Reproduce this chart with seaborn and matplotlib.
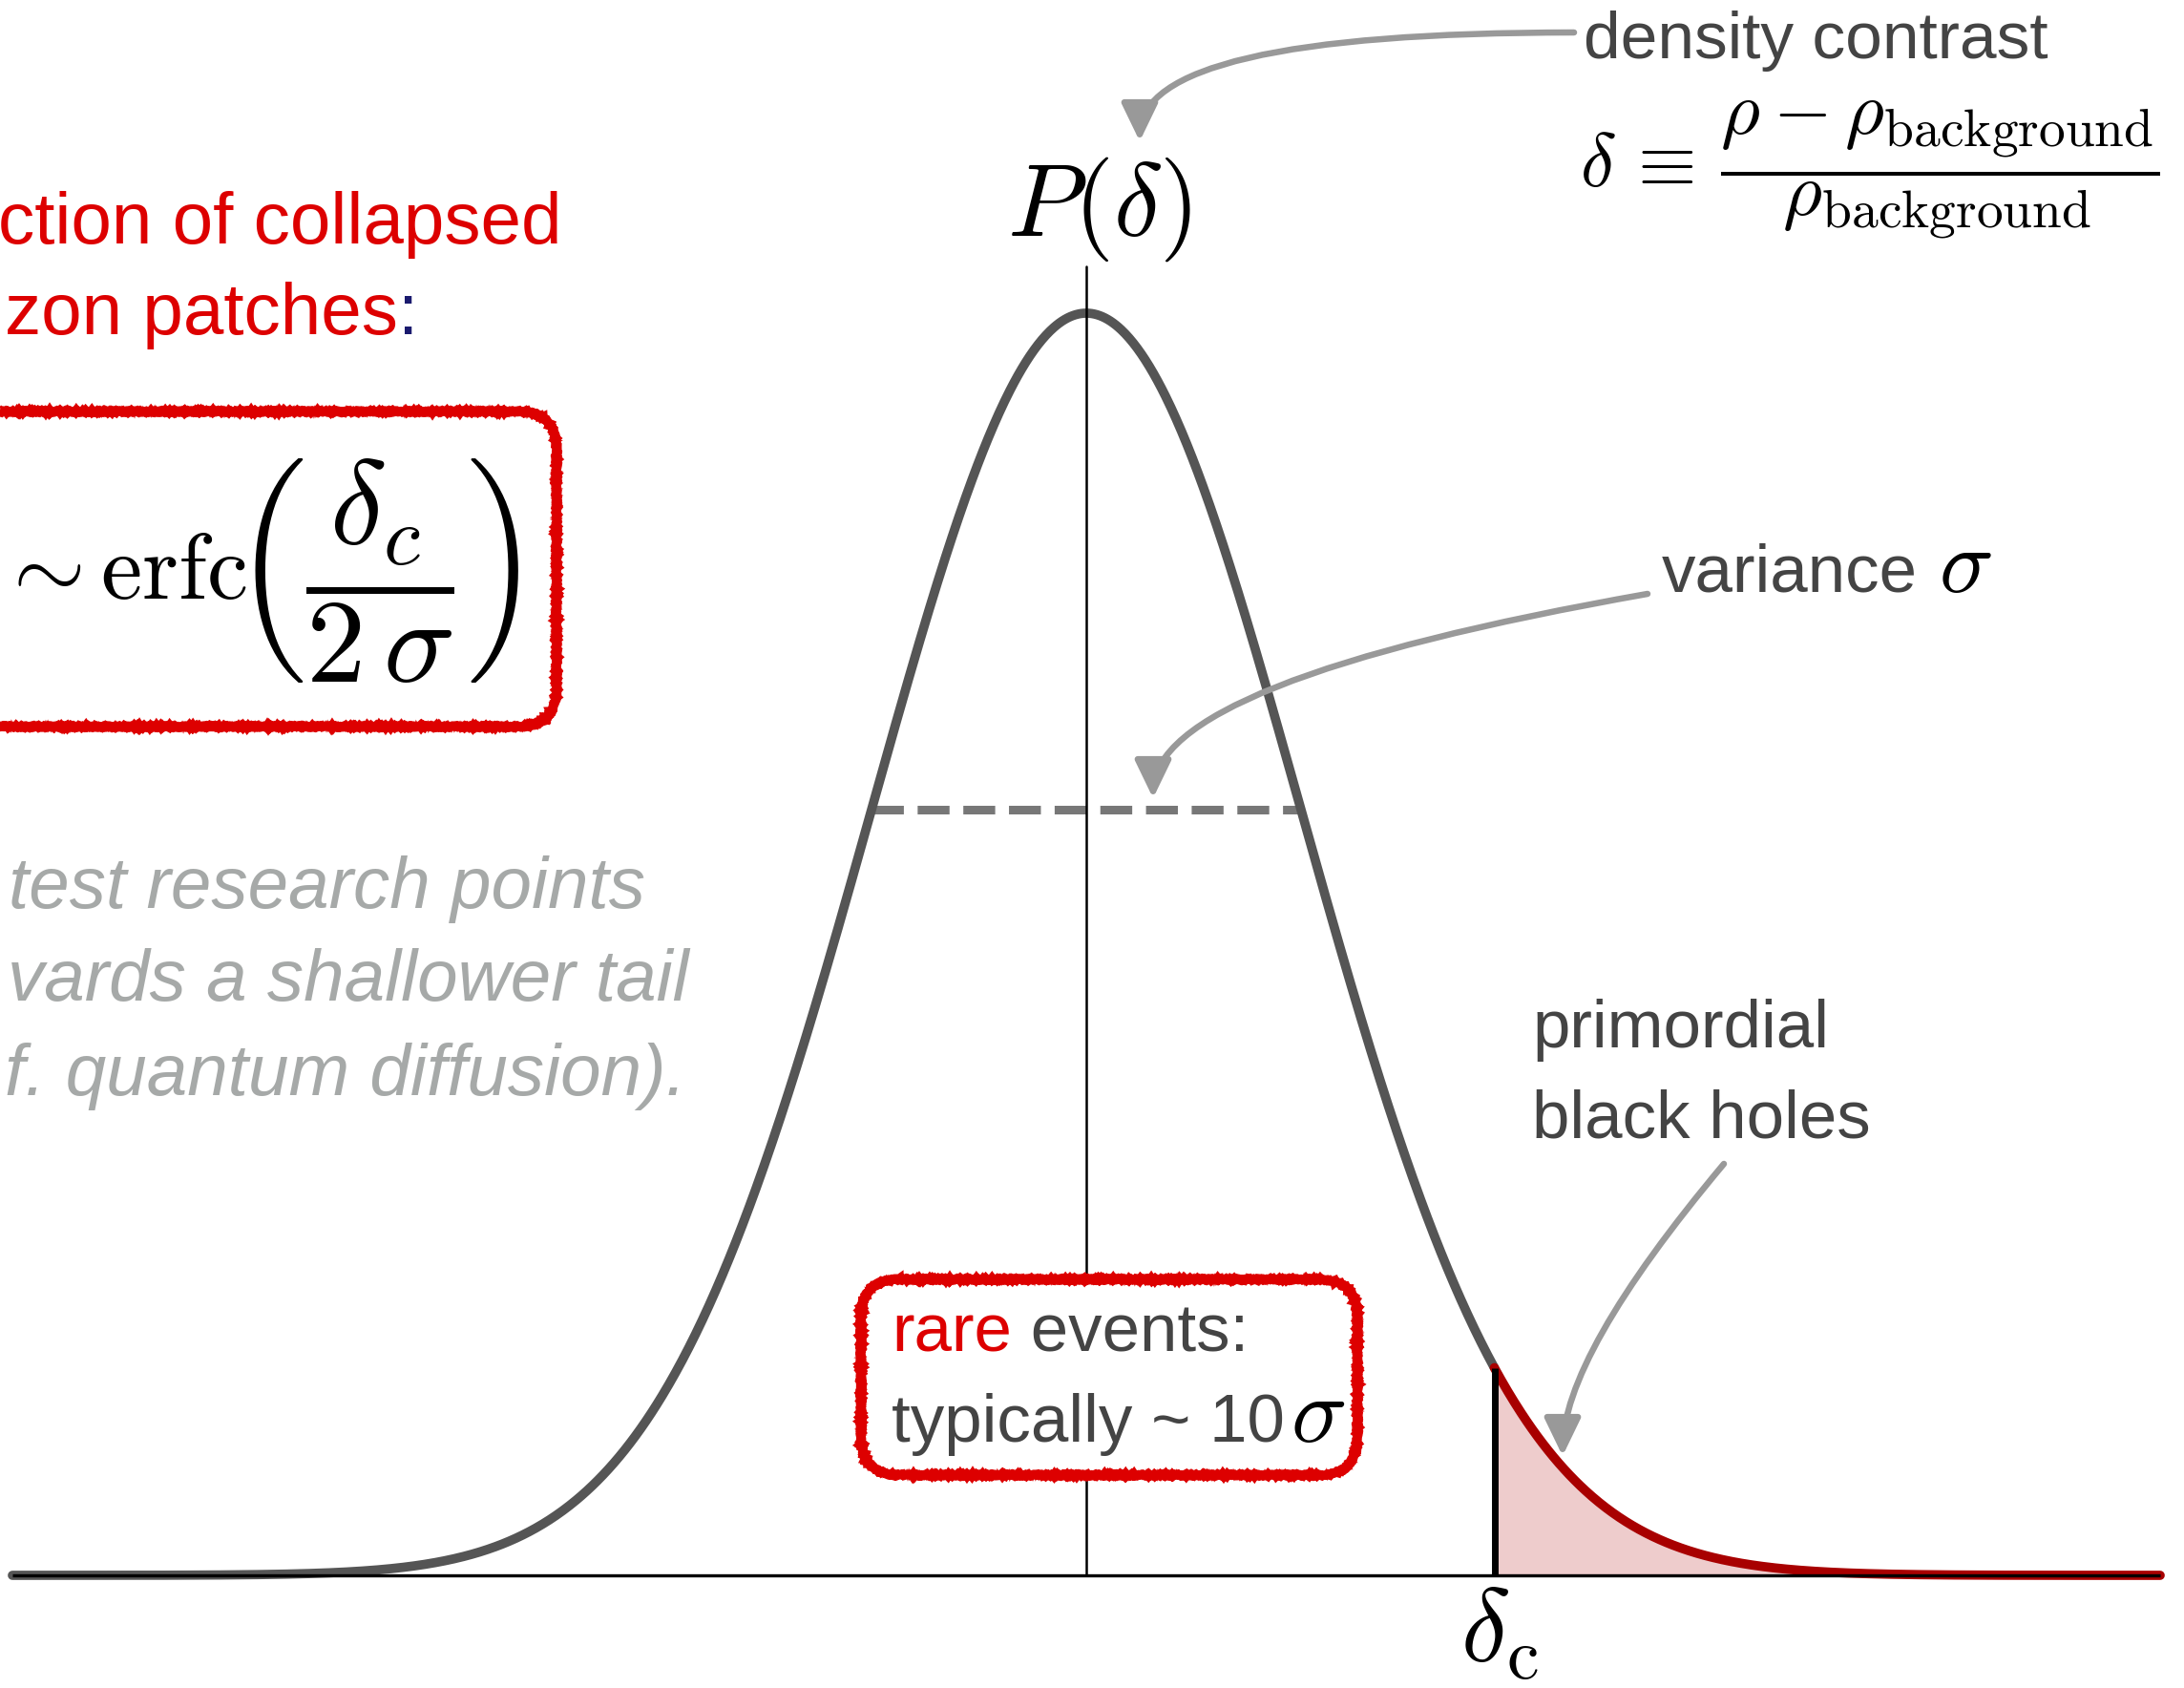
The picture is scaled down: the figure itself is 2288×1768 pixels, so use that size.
import numpy as np
import matplotlib
matplotlib.use("Agg")
import matplotlib.pyplot as plt
from matplotlib.patches import FancyBboxPatch
import seaborn as sns

# ─── Values (delta in units of sigma, P in units of peak) ───
MEAN = 0.0          # centre of P(delta)
SIGMA = 1.0         # variance marker (dashed line at +-1 sigma)
DELTA_C = 1.9       # collapse threshold
PEAK = 1.0
X_MIN, X_MAX = -5.0, 5.0
AXIS_TOP = 1.037    # top of the vertical P(delta) axis

# ─── Colours ───
CURVE_GREY = "#555555"
TAIL_RED = "#a80000"
TAIL_FILL = "#eecccc"
BOX_RED = "#dd0000"
TEXT_GREY = "#444444"
ARROW_GREY = "#999999"
NOTE_GREY = "#a6a9a8"

sns.set_theme(style="white")
plt.rcParams["font.family"] = ["Liberation Sans", "DejaVu Sans"]
plt.rcParams["mathtext.fontset"] = "cm"

delta = np.union1d(np.linspace(X_MIN, X_MAX, 1601), [DELTA_C])
density = PEAK * np.exp(-0.5 * ((delta - MEAN) / SIGMA) ** 2)
body = delta <= DELTA_C
tail = delta >= DELTA_C
p_c = PEAK * np.exp(-0.5 * ((DELTA_C - MEAN) / SIGMA) ** 2)
p_sigma = PEAK * np.exp(-0.5)

W, H = 2288, 1768
fig = plt.figure(figsize=(W / 100, H / 100), dpi=100)

# ── main axes: curve in data units ─────────────────────────
ax = fig.add_axes([0, 0, 1, 1])
ax.set_xlim(-1138 / 225, (W - 1138) / 225)
ax.set_ylim(-118 / 1322, 1650 / 1322)
ax.axis("off")

ax.fill_between(delta[tail], 0, density[tail], color=TAIL_FILL, lw=0, zorder=1)
sns.lineplot(x=delta[body], y=density[body], color=CURVE_GREY, linewidth=7,
             ax=ax, zorder=3)
sns.lineplot(x=delta[tail], y=density[tail], color=TAIL_RED, linewidth=7,
             ax=ax, zorder=3)
ax.plot([X_MIN, X_MAX], [0, 0], color="black", lw=2.4, zorder=4,
        solid_capstyle="butt")
ax.plot([MEAN, MEAN], [0, AXIS_TOP], color="black", lw=1.8, zorder=4)
ax.plot([DELTA_C, DELTA_C], [0, p_c], color="black", lw=5, zorder=4,
        solid_capstyle="butt")
ax.plot([MEAN - SIGMA, MEAN + SIGMA], [p_sigma, p_sigma], color="#777777",
        lw=6.5, dashes=(3.7, 1.6), dash_capstyle="butt", zorder=2)

# ── overlay axes in pixel coordinates for the annotations ──
ann = fig.add_axes([0, 0, 1, 1])
ann.set_xlim(0, W)
ann.set_ylim(H, 0)
ann.axis("off")
ann.patch.set_alpha(0)


def rough_box(x0, y0, x1, y1, r=40):
    base = FancyBboxPatch((x0, y0), x1 - x0, y1 - y0,
                          boxstyle=f"round,pad=0,rounding_size={r}",
                          fc="white", ec="none", zorder=5)
    ann.add_patch(base)
    for lw, sk in [(7.0, (0.8, 3, 3)), (2.5, (1.8, 1.5, 3)), (1.5, (2.6, 1.2, 3))]:
        p = FancyBboxPatch((x0, y0), x1 - x0, y1 - y0,
                           boxstyle=f"round,pad=0,rounding_size={r}",
                           fc="none", ec=BOX_RED, lw=lw, zorder=6)
        p.set_sketch_params(*sk)
        ann.add_patch(p)


def arrow(start, tip, style):
    ann.annotate("", xy=tip, xytext=start, xycoords="data",
                 arrowprops=dict(arrowstyle="-|>,head_length=1.2,head_width=0.58",
                                 mutation_scale=20, color=ARROW_GREY, lw=4.7,
                                 shrinkA=0, shrinkB=0, connectionstyle=style),
                 zorder=7)


# ── density contrast ───────────────────────────────────────
ann.text(1659, 61, "density contrast", fontsize=50, color=TEXT_GREY,
         ha="left", va="baseline")
arrow((1649, 34), (1194, 148), "angle3,angleA=0,angleB=90")
ann.text(2262, 178,
         r"$\delta\,\equiv\,\dfrac{\rho - \rho_{\mathrm{background}}}{\rho_{\mathrm{background}}}$",
         fontsize=57, ha="right", va="center", color="black")
ann.text(1152, 219, r"$P(\delta)$", fontsize=78, ha="center", va="center",
         color="black")

# ── variance ───────────────────────────────────────────────
ann.text(1741, 620, "variance", fontsize=51, color=TEXT_GREY, va="baseline")
ann.text(2031, 620, r"$\sigma$", fontsize=68, color="black", va="baseline")
arrow((1726, 622), (1208, 836), "angle3,angleA=10,angleB=90")

# ── primordial black holes ─────────────────────────────────
ann.text(1605, 1097, "primordial", fontsize=51, color=TEXT_GREY, va="baseline")
ann.text(1605, 1192, "black holes", fontsize=51, color=TEXT_GREY, va="baseline")
arrow((1806, 1219), (1637, 1525), "angle3,angleA=50,angleB=90")

# ── delta_c label ──────────────────────────────────────────
ann.text(1571, 1712, r"$\delta_{\mathrm{c}}$", fontsize=78, ha="center",
         va="center", color="black")

# ── rare events box ────────────────────────────────────────
rough_box(902, 1340, 1422, 1545)
t_rare = ann.text(934, 1415, "rare", fontsize=51, color=BOX_RED,
                  va="baseline", zorder=8)
ann.annotate(" events:", xy=(1, 0), xycoords=t_rare, fontsize=51,
             color=TEXT_GREY, va="bottom", ha="left", zorder=8)
ann.text(934, 1510, "typically ~ 10", fontsize=51, color=TEXT_GREY,
         va="baseline", zorder=8)
ann.text(1352, 1510, r"$\sigma$", fontsize=70, color="black",
         va="baseline", zorder=8)

# ── left: collapsed fraction ───────────────────────────────
ann.text(588, 255, "ction of collapsed", fontsize=55, color=BOX_RED,
         ha="right", va="baseline")
t_colon = ann.text(438, 350, ":", fontsize=55, color="#1a1a6e",
                   ha="right", va="baseline")
ann.annotate("zon patches", xy=(0, 0), xycoords=t_colon, fontsize=55,
             color=BOX_RED, ha="right", va="bottom")
rough_box(-80, 431, 583, 761)
ann.text(259, 627, r"$\sim\mathrm{erfc}$", fontsize=70, ha="right",
         va="baseline", color="black", zorder=8)
ann.text(545, 598, r"$\left(\dfrac{\delta_c}{2\,\sigma}\right)$",
         fontsize=90, ha="right", va="center", color="black", zorder=8)

# ── grey italic note ───────────────────────────────────────
for txt, xr, yb in [("test research points", 676, 951),
                    ("vards a shallower tail", 722, 1048),
                    ("f. quantum diffusion).", 719, 1147)]:
    ann.text(xr, yb, txt, fontsize=55, color=NOTE_GREY, style="italic",
             ha="right", va="baseline")

fig.savefig("out.png", dpi=100)
plt.close(fig)
